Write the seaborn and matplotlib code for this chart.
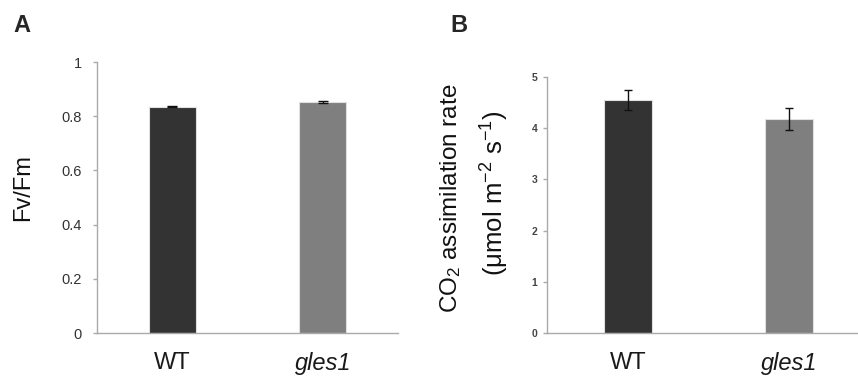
import matplotlib
matplotlib.use("Agg")
import matplotlib.pyplot as plt
import seaborn as sns
import pandas as pd

# ---- data ----
genotypes = ["WT", "gles1"]
fvfm = [0.835, 0.851]
fvfm_err = [0.002, 0.004]
co2 = [4.55, 4.18]
co2_err = [0.19, 0.21]
fvfm_ticks = [0, 0.2, 0.4, 0.6, 0.8, 1]
fvfm_ticklabels = ["0", "0.2", "0.4", "0.6", "0.8", "1"]
co2_ticks = [0, 1, 2, 3, 4, 5]
bar_colors = ["#333333", "#7f7f7f"]

sns.set_theme(style="white")
plt.rcParams["font.family"] = ["Liberation Sans", "DejaVu Sans"]
plt.rcParams["mathtext.fontset"] = "custom"
plt.rcParams["mathtext.rm"] = "Liberation Sans"
plt.rcParams["mathtext.it"] = "Liberation Sans:italic"

fig = plt.figure(figsize=(8.58, 3.77), dpi=100)
axA = fig.add_axes([0.1131, 0.1167, 0.3508, 0.7188])
axB = fig.add_axes([0.6375, 0.1167, 0.3765, 0.6790])

spine_col = "#aaaaaa"

def draw(ax, vals, errs, ylim, ticks, ticklabels, tick_fs, tick_col, tick_weight, bw, ypad, cap):
    df = pd.DataFrame({"g": genotypes, "v": vals})
    sns.barplot(data=df, x="g", y="v", hue="g", palette=bar_colors, width=bw,
                edgecolor="#e0e0e0", linewidth=0.8, legend=False, ax=ax)
    ax.errorbar(range(len(vals)), vals, yerr=errs, fmt="none", ecolor="#111111",
                elinewidth=1.0, capsize=cap, capthick=1.0)
    ax.set_xlim(-0.5, 1.5)
    ax.set_ylim(*ylim)
    ax.set_yticks(ticks)
    ax.set_yticklabels(ticklabels, fontsize=tick_fs, color=tick_col, fontweight=tick_weight)
    ax.set_xlabel("")
    ax.set_ylabel("")
    for s in ["top", "right"]:
        ax.spines[s].set_visible(False)
    for s in ["left", "bottom"]:
        ax.spines[s].set_color(spine_col)
        ax.spines[s].set_linewidth(1.0)
    ax.tick_params(axis="y", left=True, length=3, width=1, color=spine_col, pad=ypad)
    ax.tick_params(axis="x", bottom=False, pad=8)
    ax.set_xticks([0, 1])
    ax.set_xticklabels(["WT", "gles1"], fontsize=17, color="#1a1a1a")
    ax.get_xticklabels()[1].set_style("italic")

draw(axA, fvfm, fvfm_err, (0, 1), fvfm_ticks, fvfm_ticklabels, 10.5, "#333333", "normal", 0.31, 8, 3.5)
draw(axB, co2, co2_err, (0, 5), co2_ticks, [str(t) for t in co2_ticks], 7.5, "#444444", "bold", 0.30, 4, 3)

# axis labels
fig.text(23 / 858, 1 - 188 / 377, "Fv/Fm", rotation=90, ha="center", va="center",
         fontsize=17, color="#111111")
fig.text(451 / 858, 1 - 198 / 377, "CO$_2$ assimilation rate", rotation=90,
         ha="center", va="center", fontsize=17.5, color="#111111")
fig.text(495 / 858, 1 - 193 / 377, "(μmol m$^{-2}$ s$^{-1}$)", rotation=90,
         ha="center", va="center", fontsize=18.5, color="#111111")

# panel letters
fig.text(13 / 858, 1 - 32 / 377, "A", fontsize=17, fontweight="bold", ha="left", va="baseline")
fig.text(450 / 858, 1 - 32 / 377, "B", fontsize=17, fontweight="bold", ha="left", va="baseline")

fig.savefig("out.png", dpi=100)
